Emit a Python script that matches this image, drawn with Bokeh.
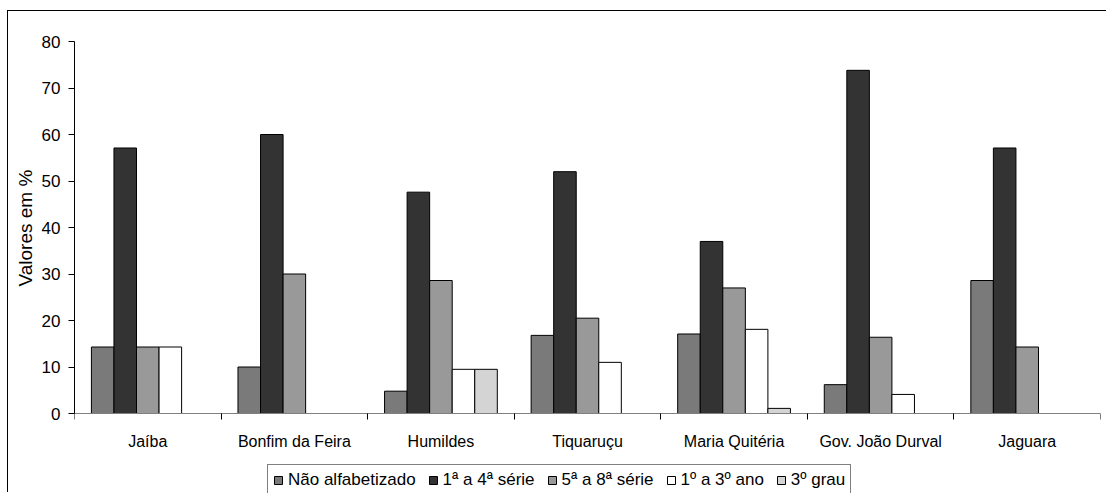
from bokeh.plotting import figure
from bokeh.models import (Range1d, FixedTicker, CustomJSTickFormatter, Legend,
                          LegendItem, ColumnDataSource, Title)
from bokeh.embed import file_html
from bokeh.resources import INLINE

# Escolaridade por localidade (valores em %)
municipios = ["Jaíba", "Bonfim da Feira", "Humildes", "Tiquaruçu",
              "Maria Quitéria", "Gov. João Durval", "Jaguara"]
series_names = ["Não alfabetizado", "1ª a 4ª série", "5ª a 8ª série",
                "1º a 3º ano", "3º grau"]
nao_alfabetizado = [14.3, 10.0, 4.8, 16.8, 17.1, 6.2, 28.6]
serie_1_a_4 = [57.1, 60.0, 47.6, 52.0, 37.0, 73.8, 57.1]
serie_5_a_8 = [14.3, 30.0, 28.6, 20.5, 27.0, 16.4, 14.3]
ano_1_a_3 = [14.3, 0.0, 9.5, 11.0, 18.1, 4.1, 0.0]
grau_3 = [0.0, 0.0, 9.5, 0.0, 1.1, 0.0, 0.0]
y_ticks = [0, 10, 20, 30, 40, 50, 60, 70, 80]

series_values = [nao_alfabetizado, serie_1_a_4, serie_5_a_8, ano_1_a_3, grau_3]
colors = ["#7a7a7a", "#333333", "#999999", "#ffffff", "#d4d4d4"]

FONT = "Liberation Sans"
n_cat = len(municipios)
n_ser = len(series_names)
bar_w = 1.0 / (n_ser + 1.5)

# canvas layout (px): the value axis runs from y_max at the top of the frame
# down to 0; the frame continues below 0 to hold the category labels and legend
W, H = 1099, 482
top_px, zero_px = 30, 402
y_max = y_ticks[-1]
y_min = -y_max * (H - zero_px) / (zero_px - top_px)

p = figure(width=W, height=H, output_backend="svg", toolbar_location=None,
           x_range=Range1d(0, n_cat), y_range=Range1d(y_min, y_max),
           min_border_left=66, min_border_right=7, min_border_top=top_px,
           min_border_bottom=0)
p.styles = {"margin-left": "7px", "margin-top": "10px",
            "border-left": "1px solid #000000", "border-top": "1px solid #000000"}
p.outline_line_color = None
p.background_fill_color = "white"
p.border_fill_color = "white"
p.xgrid.visible = False
p.ygrid.visible = False

items = []
for j, (name, vals, col) in enumerate(zip(series_names, series_values, colors)):
    xs, tops = [], []
    for i, v in enumerate(vals):
        if v > 0:
            xs.append(i + 0.5 + (j - (n_ser - 1) / 2) * bar_w)
            tops.append(v)
    src = ColumnDataSource(dict(x=xs, top=tops))
    r = p.vbar(x="x", top="top", bottom=0, width=bar_w, source=src,
               fill_color=col, line_color="black", line_width=1)
    items.append(LegendItem(label=name, renderers=[r]))

# eixo x ancorado em y = 0: rótulos no centro das categorias, marcas nos limites
xa = p.xaxis[0]
xa.fixed_location = 0
xa.ticker = FixedTicker(ticks=[i + 0.5 for i in range(n_cat)],
                        minor_ticks=list(range(n_cat + 1)))
xa.formatter = CustomJSTickFormatter(args=dict(cats=municipios),
                                     code="return cats[Math.floor(tick)] || ''")
xa.axis_line_color = "#808080"
xa.major_tick_line_color = None
xa.major_tick_out = 0
xa.major_tick_in = 0
xa.minor_tick_line_color = "black"
xa.minor_tick_out = 6
xa.minor_tick_in = 0
xa.major_label_standoff = 13
xa.major_label_text_font = FONT
xa.major_label_text_font_size = "16px"
xa.major_label_text_color = "black"

ya = p.yaxis[0]
ya.bounds = (0, y_max)
ya.ticker = FixedTicker(ticks=y_ticks)
ya.axis_line_color = "black"
ya.major_tick_line_color = "black"
ya.major_tick_out = 6
ya.major_tick_in = 0
ya.minor_tick_line_color = None
ya.major_label_standoff = 8
ya.major_label_text_font = FONT
ya.major_label_text_font_size = "17px"
ya.major_label_text_color = "black"

# título do eixo y, centrado na extensão 0..80 do eixo
label_size = 19
label_len = 118
axis_mid = (top_px + zero_px) / 2
y_title = Title(text="Valores em %", align="left",
                offset=H - axis_mid - label_len / 2,
                text_font=FONT, text_font_size=f"{label_size}px",
                text_font_style="normal", text_color="black", standoff=6)
p.add_layout(y_title, "left")

legend = Legend(items=items, orientation="horizontal", location=(193, -3),
                glyph_width=10, glyph_height=10, label_standoff=5, spacing=12,
                padding=5, margin=0, label_height=20,
                border_line_color="black", border_line_width=1,
                label_text_font=FONT, label_text_font_size="17px",
                label_text_color="black", background_fill_color="white",
                background_fill_alpha=1)
p.add_layout(legend)

open("out.html", "w").write(file_html(p, INLINE))
